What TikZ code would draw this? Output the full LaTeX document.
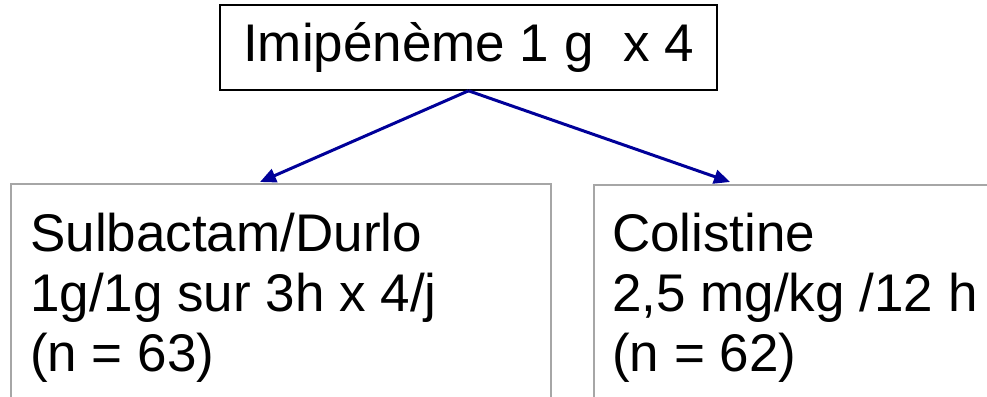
\documentclass[tikz,border=0pt]{standalone}
\usepackage{fontspec}
\setmainfont{Liberation Sans}
\usetikzlibrary{arrows.meta}
\definecolor{arrowblue}{RGB}{0,0,153}
\definecolor{boxgray}{RGB}{166,166,166}
\tikzset{
  bigtext/.style={font=\fontsize{53}{60}\selectfont, inner sep=0pt, anchor=base west, text=black},
  topbox/.style={draw=black, line width=1.6pt, minimum width=497pt, minimum height=85pt, inner sep=0pt, font=\fontsize{53}{60}\selectfont},
  graybox/.style={draw=boxgray, line width=2pt, inner sep=0pt},
  conn/.style={draw=arrowblue, line width=3pt, -{Triangle[length=16pt,width=14pt]}}
}
\begin{document}
\begin{tikzpicture}[x=1pt,y=-1pt]
\useasboundingbox (0,0) rectangle (987,396);
\node[topbox] (top) at (468.5,47.5) {Imipénème 1 g~ x 4};
\node[graybox, minimum width=540pt, minimum height=230pt] (lb) at (281,299) {};
\node[graybox, minimum width=420pt, minimum height=230pt] (rb) at (804,300) {};
\coordinate (lt) at (260,182);
\coordinate (rt) at (730,182);
\node[bigtext] (l1) at (30,251) {Sulbactam/Durlo};
\node[bigtext] (l2) at (30,311) {1g/1g sur 3h x 4/j};
\node[bigtext] (l3) at (30,371) {(n = 63)};
\node[bigtext] (r1) at (612,251) {Colistine};
\node[bigtext] (r2) at (612,311) {2,5 mg/kg /12 h};
\node[bigtext] (r3) at (612,371) {(n = 62)};
\draw[conn] (top.south) -- (lt);
\draw[conn] (top.south) -- (rt);
\end{tikzpicture}
\end{document}
